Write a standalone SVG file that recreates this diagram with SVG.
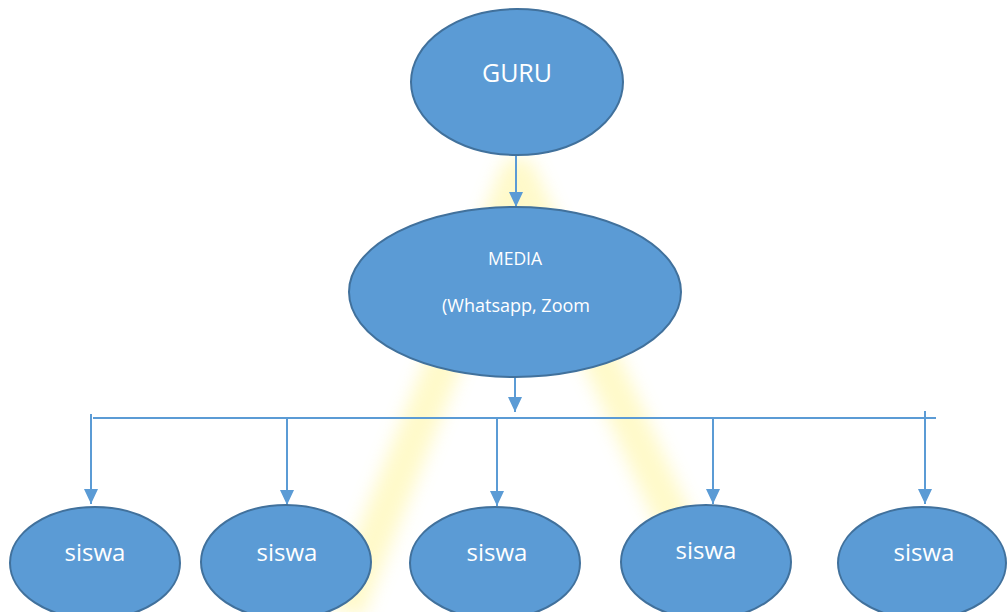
<svg xmlns="http://www.w3.org/2000/svg" width="1007" height="612" viewBox="0 0 1007 612">
<style>
.node{fill:#5B9BD5;stroke:#41719C;stroke-width:2}
.lbl{fill:#ffffff;font-family:"Open Sans","Liberation Sans",sans-serif;text-anchor:middle}
.conn{stroke:#5B9BD5;stroke-width:2;fill:none}
</style>
<defs>
<marker id="arr" markerUnits="userSpaceOnUse" markerWidth="16" markerHeight="16" viewBox="0 0 16 16" refX="15" refY="8" orient="auto">
<path d="M0,1 L15,8 L0,15 Z" fill="#5B9BD5"/>
</marker>
<filter id="blur" x="-20%" y="-20%" width="140%" height="140%"><feGaussianBlur stdDeviation="9"/></filter>
</defs>
<rect width="1007" height="612" fill="#ffffff"/>
<g id="watermark" filter="url(#blur)" opacity="0.4">
<polyline points="345,612 518,175 715,612" fill="none" stroke="#fff27a" stroke-width="36" stroke-linejoin="round"/>
</g>
<g id="connectors">
<line class="conn" x1="516" y1="155" x2="516" y2="207" marker-end="url(#arr)"/>
<line class="conn" x1="515" y1="377" x2="515" y2="412" marker-end="url(#arr)"/>
<line class="conn" x1="93" y1="418" x2="936" y2="418" stroke-width="1.5"/>
<line class="conn" x1="91" y1="414" x2="91" y2="504" marker-end="url(#arr)"/>
<line class="conn" x1="287" y1="418" x2="287" y2="505" marker-end="url(#arr)"/>
<line class="conn" x1="497" y1="418" x2="497" y2="506" marker-end="url(#arr)"/>
<line class="conn" x1="713" y1="418" x2="713" y2="504" marker-end="url(#arr)"/>
<line class="conn" x1="925" y1="411" x2="925" y2="504" marker-end="url(#arr)"/>
</g>
<g id="guru">
<ellipse class="node" cx="517" cy="82" rx="106" ry="73"/>
<text class="lbl" x="517" y="82" font-size="25">GURU</text>
</g>
<g id="media">
<ellipse class="node" cx="515" cy="292" rx="166" ry="85"/>
<text class="lbl" x="515" y="265" font-size="17.5">MEDIA</text>
<text class="lbl" x="516" y="312" font-size="18">(Whatsapp, Zoom</text>
</g>
<g id="siswa1">
<ellipse class="node" cx="95" cy="563" rx="85" ry="56"/>
<text class="lbl" x="95" y="561" font-size="24">siswa</text>
</g>
<g id="siswa2">
<ellipse class="node" cx="286" cy="562" rx="85" ry="57"/>
<text class="lbl" x="287" y="561" font-size="24">siswa</text>
</g>
<g id="siswa3">
<ellipse class="node" cx="495" cy="563" rx="85" ry="56"/>
<text class="lbl" x="497" y="561" font-size="24">siswa</text>
</g>
<g id="siswa4">
<ellipse class="node" cx="706" cy="562" rx="85" ry="57"/>
<text class="lbl" x="706" y="559" font-size="24">siswa</text>
</g>
<g id="siswa5">
<ellipse class="node" cx="922" cy="563" rx="84" ry="56"/>
<text class="lbl" x="924" y="561" font-size="24">siswa</text>
</g>
</svg>
